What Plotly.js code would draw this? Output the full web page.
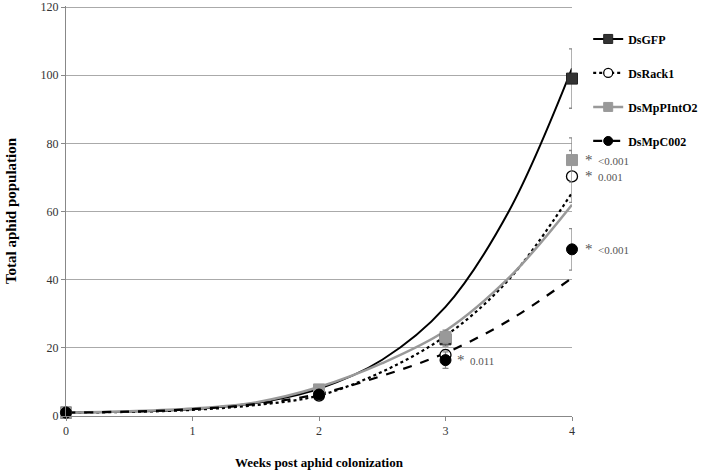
<!DOCTYPE html>
<html>
<head>
<meta charset="utf-8">
<script src="https://cdn.plot.ly/plotly-3.0.1.min.js"></script>
<style>body{margin:0;background:#fff}</style>
</head>
<body>
<div id="plot1" style="width:701px;height:475px"></div>
<script>
// measured means and error bars
let weeks = [0, 2, 3, 4];
let gfpMean = [1, 7.5, 22.5, 99];
let gfpErr = [0.3, 1, 2, 8.7];
let rackMean = [1, 6, 17.9, 70.3];
let rackErr = [0.3, 0.8, 1.5, 7.6];
let intoMean = [1, 7.8, 23.2, 75.1];
let intoErr = [0.3, 0.9, 2, 6.5];
let c002Mean = [1, 6.3, 16.4, 48.9];
let c002Err = [0.3, 0.8, 2.4, 6.1];

// fitted trend lines
let fitX = [0, 0.5, 1, 1.5, 2, 2.5, 3, 3.5, 4];
let gfpFit = [1, 1.3, 2, 3.8, 8, 16.5, 32, 60, 102];
let rackFit = [1, 1.2, 1.8, 3.2, 6, 13, 23.5, 40, 65.5];
let intoFit = [1, 1.4, 2.2, 4, 8.5, 15.5, 25, 40.5, 62];
let c002Fit = [1, 1.3, 2, 3.5, 6.5, 11.8, 18.5, 28, 40.5];

let names = ['DsGFP', 'DsRack1', 'DsMpPIntO2', 'DsMpC002'];
let pValues = ['', '0.001', '<0.001', '<0.001'];

let lineStyles = [
    {color: '#000', width: 2, dash: 'solid'},
    {color: '#000', width: 2.2, dash: 'dot'},
    {color: '#999', width: 2.5, dash: 'solid'},
    {color: '#000', width: 2.2, dash: 'dash'}
];
let markerStyles = [
    {symbol: 'square', size: 11, color: '#333', line: {color: '#222', width: 1}},
    {symbol: 'circle', size: 11, color: '#fff', line: {color: '#000', width: 1.3}},
    {symbol: 'square', size: 11, color: '#999', line: {color: '#999', width: 1}},
    {symbol: 'circle', size: 11, color: '#000', line: {color: '#000', width: 1}}
];

let means = [gfpMean, rackMean, intoMean, c002Mean];
let errs = [gfpErr, rackErr, intoErr, c002Err];
let fits = [gfpFit, rackFit, intoFit, c002Fit];

var data = [];

// curves
for (let i = 0; i < 4; i++) {
    data.push({
        x: fitX, y: fits[i], mode: 'lines', type: 'scatter',
        line: Object.assign({shape: 'spline'}, lineStyles[i]),
        showlegend: false, hoverinfo: 'skip'
    });
}

// points with error bars
for (let i = 0; i < 4; i++) {
    data.push({
        x: weeks, y: means[i], mode: 'markers', type: 'scatter',
        marker: markerStyles[i],
        error_y: {type: 'data', array: errs[i], visible: true, color: '#888', thickness: 1.3, width: 3},
        cliponaxis: false, showlegend: false
    });
}

// legend entries (line + marker)
for (let i = 0; i < 4; i++) {
    data.push({
        x: [null], y: [null], mode: 'lines+markers', type: 'scatter',
        name: names[i], legendgroup: names[i],
        line: lineStyles[i],
        marker: Object.assign({}, markerStyles[i], {size: 9})
    });
}

let annFont = {family: 'Liberation Serif', size: 11, color: '#555'};
let star = '<span style="font-size:15px">*</span>  ';
let annotations = [];
for (let i = 1; i < 4; i++) {
    annotations.push({
        x: 4, y: means[i][3], xref: 'x', yref: 'y',
        text: star + pValues[i].replace('<', '&lt;'), showarrow: false,
        xanchor: 'left', xshift: 11, font: annFont
    });
}
annotations.push({
    x: 3, y: c002Mean[2], xref: 'x', yref: 'y',
    text: star + '0.011', showarrow: false,
    xanchor: 'left', xshift: 9, font: annFont
});

var layout = {
    width: 701, height: 475,
    margin: {l: 66, r: 129, t: 6, b: 59, autoexpand: false},
    paper_bgcolor: '#fff', plot_bgcolor: '#fff',
    font: {family: 'Liberation Serif', size: 12, color: '#333'},
    showlegend: true,
    legend: {
        x: 1.032, y: 0.955, xanchor: 'left', yanchor: 'top',
        font: {family: 'Liberation Serif', size: 12, color: '#000', weight: 'bold'},
        tracegroupgap: 15, bgcolor: 'rgba(0,0,0,0)'
    },
    xaxis: {
        range: [0, 4], tickvals: [0, 1, 2, 3, 4],
        showgrid: false, zeroline: false,
        showline: true, linecolor: '#888', linewidth: 1,
        ticks: 'outside', ticklen: 4, tickcolor: '#888',
        tickfont: {family: 'Liberation Serif', size: 12, color: '#333'},
        title: {text: 'Weeks post aphid colonization', standoff: 20,
            font: {family: 'Liberation Serif', size: 13, color: '#000', weight: 'bold'}}
    },
    yaxis: {
        range: [0, 120.3], tickvals: [0, 20, 40, 60, 80, 100, 120],
        ticklabeloverflow: 'allow',
        showgrid: true, gridcolor: '#aaa', gridwidth: 1, zeroline: false,
        showline: true, linecolor: '#888', linewidth: 1,
        ticks: 'outside', ticklen: 4, tickcolor: '#888',
        tickfont: {family: 'Liberation Serif', size: 12, color: '#333'},
        title: {text: 'Total aphid population', standoff: 20,
            font: {family: 'Liberation Serif', size: 15, color: '#000', weight: 'bold'}}
    },
    annotations: annotations
};

Plotly.newPlot('plot1', data, layout, {displayModeBar: false});
</script>
</body>
</html>
